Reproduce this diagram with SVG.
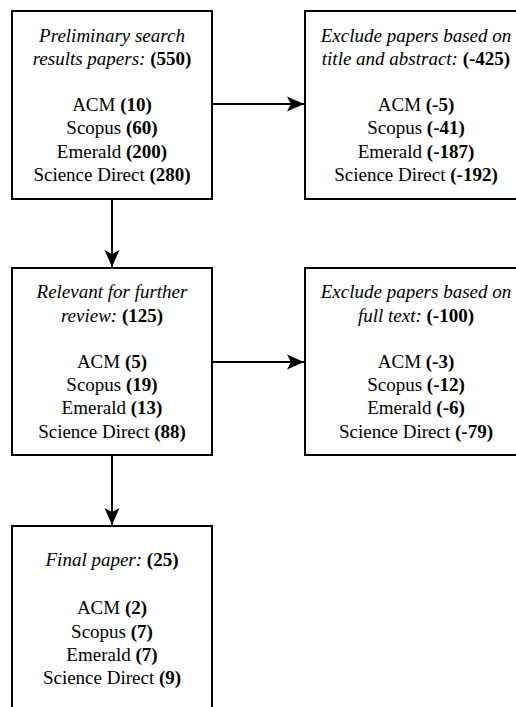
<svg xmlns="http://www.w3.org/2000/svg" width="516" height="707" viewBox="0 0 516 707" font-family="Liberation Serif, serif">
<style>
.box{fill:#fff;stroke:#000;stroke-width:2}
.edge{fill:none;stroke:#000;stroke-width:2}
text{font-size:19px;fill:#000;text-anchor:middle}
.i{font-style:italic}
.b{font-weight:bold}
</style>
<defs>
<marker id="arr" markerUnits="userSpaceOnUse" markerWidth="20" markerHeight="20" viewBox="0 0 20 20" refX="18" refY="10" orient="auto">
<path d="M18,10 L1,2.5 L5,10 L1,17.5 Z" fill="#000"/>
</marker>
</defs>
<rect width="516" height="707" fill="#fff"/>
<g id="connectors">
<path class="edge" d="M212,104 H304" marker-end="url(#arr)"/>
<path class="edge" d="M112,199 V267" marker-end="url(#arr)"/>
<path class="edge" d="M212,362 H304" marker-end="url(#arr)"/>
<path class="edge" d="M112,455 V525" marker-end="url(#arr)"/>
</g>
<g id="n1">
<rect class="box" x="12" y="11" width="200" height="188"/>
<text x="112" y="41.5"><tspan class="i">Preliminary search</tspan></text>
<text x="112" y="64.7"><tspan class="i">results papers: </tspan><tspan class="b">(550)</tspan></text>
<text x="112" y="111.1">ACM <tspan class="b">(10)</tspan></text>
<text x="112" y="134.3">Scopus <tspan class="b">(60)</tspan></text>
<text x="112" y="157.5">Emerald <tspan class="b">(200)</tspan></text>
<text x="112" y="180.7">Science Direct <tspan class="b">(280)</tspan></text>
</g>
<g id="n2">
<rect class="box" x="305" y="11" width="222" height="188"/>
<text x="416" y="41.5"><tspan class="i">Exclude papers based on</tspan></text>
<text x="416" y="64.7"><tspan class="i">title and abstract: </tspan><tspan class="b">(-425)</tspan></text>
<text x="416" y="111.1">ACM <tspan class="b">(-5)</tspan></text>
<text x="416" y="134.3">Scopus <tspan class="b">(-41)</tspan></text>
<text x="416" y="157.5">Emerald <tspan class="b">(-187)</tspan></text>
<text x="416" y="180.7">Science Direct <tspan class="b">(-192)</tspan></text>
</g>
<g id="n3">
<rect class="box" x="12" y="268" width="200" height="187"/>
<text x="112" y="298.3"><tspan class="i">Relevant for further</tspan></text>
<text x="112" y="321.5"><tspan class="i">review: </tspan><tspan class="b">(125)</tspan></text>
<text x="112" y="367.9">ACM <tspan class="b">(5)</tspan></text>
<text x="112" y="391.1">Scopus <tspan class="b">(19)</tspan></text>
<text x="112" y="414.3">Emerald <tspan class="b">(13)</tspan></text>
<text x="112" y="437.5">Science Direct <tspan class="b">(88)</tspan></text>
</g>
<g id="n4">
<rect class="box" x="305" y="268" width="222" height="187"/>
<text x="416" y="298.3"><tspan class="i">Exclude papers based on</tspan></text>
<text x="416" y="321.5"><tspan class="i">full text: </tspan><tspan class="b">(-100)</tspan></text>
<text x="416" y="367.9">ACM <tspan class="b">(-3)</tspan></text>
<text x="416" y="391.1">Scopus <tspan class="b">(-12)</tspan></text>
<text x="416" y="414.3">Emerald <tspan class="b">(-6)</tspan></text>
<text x="416" y="437.5">Science Direct <tspan class="b">(-79)</tspan></text>
</g>
<g id="n5">
<rect class="box" x="12" y="526" width="200" height="200"/>
<text x="112" y="565.7"><tspan class="i">Final paper: </tspan><tspan class="b">(25)</tspan></text>
<text x="112" y="614.3">ACM <tspan class="b">(2)</tspan></text>
<text x="112" y="637.6">Scopus <tspan class="b">(7)</tspan></text>
<text x="112" y="660.9">Emerald <tspan class="b">(7)</tspan></text>
<text x="112" y="684.2">Science Direct <tspan class="b">(9)</tspan></text>
</g>
</svg>
